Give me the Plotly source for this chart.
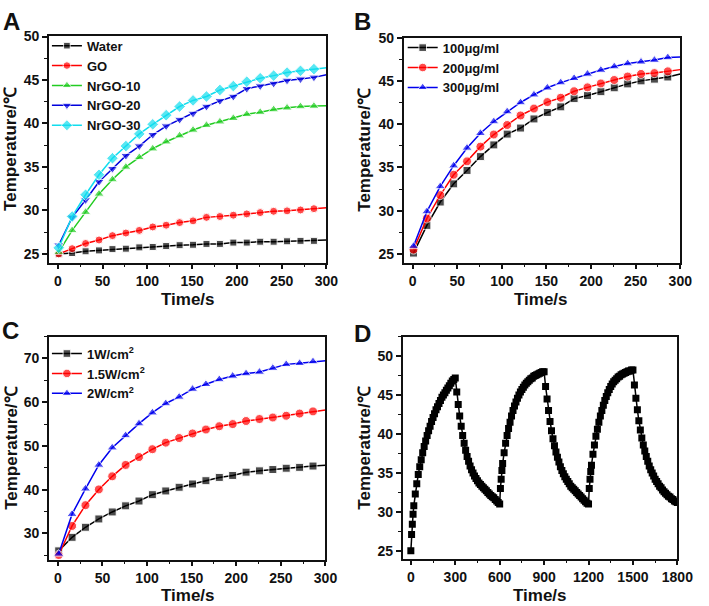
import plotly.graph_objects as go

# ---------------- data ----------------
# Panel A (samples every 15 s, plus end of line at 300 s)
time_a = [1, 16, 31, 46, 61, 76, 91, 106, 121, 136, 151, 166, 181, 196, 211, 226, 241, 256, 271, 286, 300]
water = [25.0, 25.1, 25.3, 25.4, 25.55, 25.6, 25.75, 25.8, 25.9, 26.0, 26.05, 26.15, 26.15, 26.3, 26.3, 26.4, 26.4, 26.45, 26.5, 26.5, 26.6]
go_ = [25.0, 25.6, 26.2, 26.6, 27.1, 27.4, 27.7, 28.1, 28.3, 28.6, 28.8, 29.2, 29.3, 29.45, 29.6, 29.75, 29.9, 29.95, 30.05, 30.2, 30.3]
nrgo10 = [25.2, 27.7, 29.8, 31.9, 33.55, 35.0, 36.1, 37.1, 37.9, 38.6, 39.25, 39.8, 40.2, 40.6, 41.05, 41.3, 41.6, 41.8, 41.95, 42.0, 42.05]
nrgo20 = [26.0, 29.2, 31.2, 33.3, 34.8, 36.3, 37.4, 38.7, 39.7, 40.45, 41.15, 41.95, 42.6, 43.1, 44.0, 44.3, 44.6, 44.95, 45.1, 45.3, 45.6]
nrgo30 = [25.7, 29.3, 31.8, 34.1, 36.0, 37.4, 38.8, 39.9, 40.95, 41.95, 42.65, 43.1, 43.85, 44.3, 44.8, 45.2, 45.5, 45.85, 46.05, 46.25, 46.4]

# Panel B
time_b = time_a
c100 = [25.1, 28.3, 31.0, 33.1, 34.65, 36.25, 37.6, 38.85, 39.55, 40.6, 41.35, 42.0, 42.95, 43.3, 43.75, 44.2, 44.65, 45.0, 45.2, 45.45, 45.8]
c200 = [25.5, 29.1, 31.8, 34.15, 35.7, 37.4, 38.8, 39.9, 41.0, 41.8, 42.55, 43.05, 43.8, 44.25, 44.7, 45.1, 45.5, 45.8, 45.9, 46.1, 46.3]
c300 = [25.9, 29.9, 32.8, 35.2, 37.25, 38.95, 40.3, 41.45, 42.5, 43.4, 44.2, 44.8, 45.3, 45.8, 46.25, 46.65, 47.0, 47.2, 47.4, 47.7, 47.75]

# Panel C
time_c = time_a
p1 = [26.0, 29.1, 31.4, 33.3, 34.9, 36.3, 37.4, 38.85, 39.7, 40.55, 41.3, 42.05, 42.8, 43.25, 44.0, 44.3, 44.6, 44.9, 45.1, 45.4, 45.6]
p15 = [25.05, 31.7, 36.45, 40.05, 43.05, 45.65, 47.45, 49.25, 50.75, 51.8, 52.85, 53.75, 54.5, 55.0, 55.7, 56.15, 56.5, 56.9, 57.4, 57.9, 58.2]
p2 = [25.3, 34.4, 40.2, 45.65, 49.6, 52.4, 55.1, 57.6, 59.7, 61.2, 63.0, 64.1, 65.2, 66.0, 66.55, 66.9, 67.8, 68.65, 68.9, 69.3, 69.5]

# Panel D (three on/off cycles)
time_d = [0, 5, 10, 15, 20, 30, 40, 50, 60, 70, 80, 90, 100, 110, 120, 130, 140, 150, 160, 170, 180, 190, 200,
          210, 220, 230, 240, 250, 260, 270, 280, 290, 300,
          310, 320, 330, 340, 350, 360, 370, 380, 390, 400, 410, 420, 430, 440, 450, 460, 470, 480, 490, 500,
          510, 520, 530, 540, 550, 560, 570, 580, 590, 600,
          605, 610, 615, 620, 630, 640, 650, 660, 670, 680, 690, 700, 710, 720, 730, 740, 750, 760, 770, 780,
          790, 800, 810, 820, 830, 840, 850, 860, 870, 880, 890, 900,
          910, 920, 930, 940, 950, 960, 970, 980, 990, 1000, 1010, 1020, 1030, 1040, 1050, 1060, 1070, 1080,
          1090, 1100, 1110, 1120, 1130, 1140, 1150, 1160, 1170, 1180, 1190, 1200,
          1205, 1210, 1215, 1220, 1230, 1240, 1250, 1260, 1270, 1280, 1290, 1300, 1310, 1320, 1330, 1340, 1350,
          1360, 1370, 1380, 1390, 1400, 1410, 1420, 1430, 1440, 1450, 1460, 1470, 1480, 1490, 1500,
          1510, 1520, 1530, 1540, 1550, 1560, 1570, 1580, 1590, 1600, 1610, 1620, 1630, 1640, 1650, 1660, 1670,
          1680, 1690, 1700, 1710, 1720, 1730, 1740, 1750, 1760, 1770, 1780, 1790, 1800]
temp_d = [25.0, 27.1, 28.4, 29.7, 30.8, 32.3, 33.6, 34.8, 35.8, 36.7, 37.6, 38.4, 39.1, 39.8, 40.4, 41.0, 41.6, 42.1, 42.6, 43.1, 43.5, 43.9, 44.3,
          44.7, 45.0, 45.3, 45.6, 45.9, 46.2, 46.5, 46.8, 47.0, 47.2,
          45.4, 43.8, 42.3, 41.0, 39.8, 38.8, 37.9, 37.1, 36.5, 35.9, 35.4, 35.0, 34.6, 34.3, 34.0, 33.7, 33.5, 33.3, 33.1, 32.9,
          32.7, 32.5, 32.3, 32.1, 31.95, 31.8, 31.6, 31.4, 31.2, 31.0,
          33.0, 34.2, 35.3, 36.2, 37.6, 38.8, 39.8, 40.7, 41.5, 42.3, 43.0, 43.6, 44.1, 44.6, 45.0, 45.4, 45.7, 46.0, 46.3, 46.5,
          46.7, 46.9, 47.1, 47.2, 47.4, 47.5, 47.6, 47.7, 47.8, 47.9, 48.0, 48.0,
          46.1, 44.5, 43.0, 41.6, 40.4, 39.4, 38.5, 37.7, 37.0, 36.4, 35.8, 35.3, 34.9, 34.5, 34.2, 33.9, 33.6, 33.3,
          33.1, 32.9, 32.7, 32.5, 32.3, 32.1, 31.9, 31.7, 31.5, 31.3, 31.1, 31.0,
          33.0, 34.2, 35.2, 36.0, 37.4, 38.6, 39.7, 40.6, 41.5, 42.3, 43.0, 43.7, 44.3, 44.8, 45.3, 45.7, 46.1,
          46.4, 46.7, 46.9, 47.1, 47.3, 47.4, 47.6, 47.7, 47.8, 47.9, 48.0, 48.1, 48.1, 48.2, 48.2,
          46.3, 44.6, 43.1, 41.7, 40.5, 39.5, 38.6, 37.8, 37.1, 36.5, 35.9, 35.4, 35.0, 34.6, 34.2, 33.9, 33.6,
          33.3, 33.1, 32.8, 32.6, 32.4, 32.2, 32.0, 31.9, 31.7, 31.6, 31.4, 31.3, 31.2]

# ---------------- styling ----------------
W, H = 709, 606
FONT = "Liberation Sans, Arial, Helvetica, sans-serif"
INK = "#111111"

def px(x):
    return x / W

def py(y):
    return 1 - y / H

fig = go.Figure()

def sizes(n, s):
    return [s] * (n - 1) + [0]

def add(x, y, name, color, symbol, xa, ya, legend, msize=7):
    fig.add_trace(go.Scatter(
        x=x, y=y, name=name, mode="lines+markers",
        line=dict(color=color, width=1.5),
        marker=dict(symbol=symbol, color=color, size=sizes(len(x), msize)),
        xaxis=xa, yaxis=ya, legend=legend,
    ))

add(time_a, water, "Water", "#000000", "square", "x", "y", "legend", 7)
add(time_a, go_, "GO", "#FF0000", "circle", "x", "y", "legend", 8)
add(time_a, nrgo10, "NrGO-10", "#22CC22", "triangle-up", "x", "y", "legend", 9)
add(time_a, nrgo20, "NrGO-20", "#0000DD", "triangle-down", "x", "y", "legend", 9)
add(time_a, nrgo30, "NrGO-30", "#11DDEE", "diamond", "x", "y", "legend", 9)

add(time_b, c100, "100μg/ml", "#000000", "square", "x2", "y2", "legend2", 8)
add(time_b, c200, "200μg/ml", "#FF0000", "circle", "x2", "y2", "legend2", 9)
add(time_b, c300, "300μg/ml", "#0000EE", "triangle-up", "x2", "y2", "legend2", 9)

add(time_c, p1, "1W/cm<sup>2</sup>", "#000000", "square", "x3", "y3", "legend3", 8)
add(time_c, p15, "1.5W/cm<sup>2</sup>", "#FF0000", "circle", "x3", "y3", "legend3", 9)
add(time_c, p2, "2W/cm<sup>2</sup>", "#0000EE", "triangle-up", "x3", "y3", "legend3", 9)

fig.add_trace(go.Scatter(
    x=time_d, y=temp_d, mode="lines+markers", showlegend=False,
    line=dict(color="#000000", width=1.5),
    marker=dict(symbol="square", color="#000000", size=7),
    xaxis="x4", yaxis="y4",
))

def xaxis(dom, rng, dtick, minor, anchor):
    return dict(domain=dom, range=rng, dtick=dtick, tick0=0, anchor=anchor,
                showline=True, mirror=True, linewidth=1.5, linecolor=INK,
                ticks="outside", ticklen=5, tickwidth=1.5, tickcolor=INK,
                minor=dict(ticks="outside", ticklen=3, tickwidth=1.2, tickcolor=INK, dtick=minor),
                showgrid=False, zeroline=False,
                tickfont=dict(family=FONT, size=14, color=INK, weight="bold"))

def yaxis(dom, rng, dtick, minor, anchor, tick0=0):
    d = xaxis(dom, rng, dtick, minor, anchor)
    d["tick0"] = tick0
    return d

fig.update_layout(
    width=W, height=H, autosize=False,
    margin=dict(l=0, r=0, t=0, b=0),
    paper_bgcolor="white", plot_bgcolor="white",
    font=dict(family=FONT, color=INK),
    xaxis=xaxis([px(50), px(334)], [-10, 300], 50, 25, "y"),
    yaxis=yaxis([py(258), py(28)], [24, 50.1], 5, 2.5, "x"),
    xaxis2=xaxis([px(413), px(696)], [-10, 300], 50, 25, "y2"),
    yaxis2=yaxis([py(258), py(30)], [24, 50], 5, 2.5, "x2"),
    xaxis3=xaxis([px(50), px(333)], [-10, 300], 50, 25, "y3"),
    yaxis3=yaxis([py(559), py(333)], [24, 75], 10, 5, "x3"),
    xaxis4=xaxis([px(412), px(693)], [-55, 1800], 300, 150, "y4"),
    yaxis4=yaxis([py(558), py(333)], [24, 52.5], 5, 2.5, "x4"),
)

leg_common = dict(bgcolor="rgba(0,0,0,0)", borderwidth=0, xanchor="left", yanchor="top",
                  font=dict(family=FONT, size=13, color=INK, weight="bold"),
                  tracegroupgap=0, itemwidth=30)
fig.update_layout(
    legend=dict(x=px(48), y=py(23), **leg_common),
    legend2=dict(x=px(412), y=py(25), **leg_common),
    legend3=dict(x=px(48), y=py(335), **leg_common),
)

ann = []
def text(x, y, s, size, angle=0):
    ann.append(dict(x=px(x), y=py(y), xref="paper", yref="paper", text=s, showarrow=False,
                    textangle=angle, xanchor="center", yanchor="middle",
                    font=dict(family=FONT, size=size, color=INK, weight="bold")))

# panel letters
text(12, 14, "A", 24)
text(371, 14, "B", 24)
text(11, 327, "C", 24)
text(371, 330, "D", 24)
# axis titles
text(192, 295, "Time/s", 17)
text(554, 295, "Time/s", 17)
text(192, 595, "Time/s", 17)
text(552, 595, "Time/s", 17)
text(10, 143, "Temperature/℃", 17, -90)
text(372, 144, "Temperature/℃", 17, -90)
text(11, 446, "Temperature/℃", 17, -90)
text(373, 446, "Temperature/℃", 17, -90)
fig.update_layout(annotations=ann)

ps = """
document.documentElement.style.margin='0';
document.documentElement.style.padding='0';
document.body.style.margin='0';
document.body.style.padding='0';
"""
fig.write_html("out.html", config={"responsive": False, "displayModeBar": False}, post_script=ps)
